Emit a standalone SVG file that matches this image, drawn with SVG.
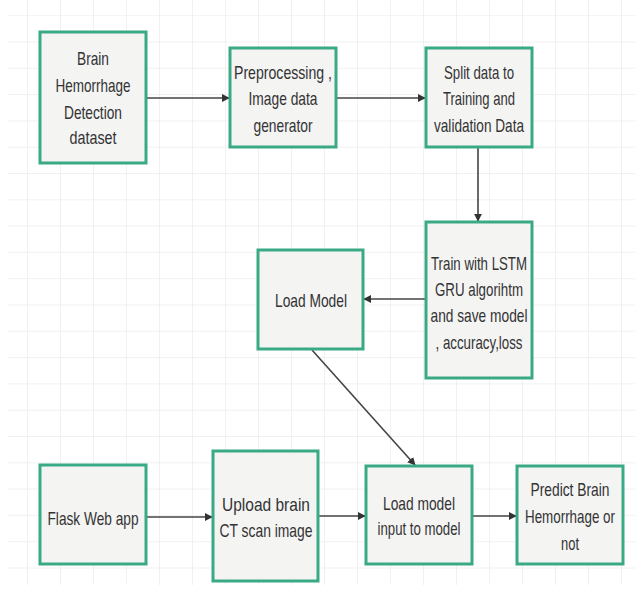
<svg xmlns="http://www.w3.org/2000/svg" width="635" height="594" viewBox="0 0 635 594">
<style>
.box{fill:#f4f4f3;stroke:#3aa985;stroke-width:3}
.lbl{font-family:"Liberation Sans",Arial,sans-serif;font-size:19px;fill:#333;text-anchor:middle}
.edge{stroke:#444;stroke-width:1.6;fill:none;marker-end:url(#ah)}
</style>
<defs>
<marker id="ah" viewBox="0 0 10 10" refX="9" refY="5" markerWidth="5" markerHeight="5" orient="auto" markerUnits="strokeWidth">
<path d="M0,0 L10,5 L0,10 z" fill="#333"/>
</marker>
<pattern id="grid" patternUnits="userSpaceOnUse" x="27" y="15.2" width="33" height="26.3">
<path d="M0,0 H33 M0,0 V26.3" stroke="#e3e3e3" stroke-width="1" fill="none"/>
</pattern>
</defs>
<rect width="635" height="594" fill="#fff"/>
<rect x="8" y="0" width="627" height="585" fill="url(#grid)"/>

<g id="connectors">
<line class="edge" x1="146" y1="98" x2="229" y2="98"/>
<line class="edge" x1="336" y1="98" x2="425" y2="98"/>
<line class="edge" x1="478" y1="147" x2="478" y2="221"/>
<line class="edge" x1="426" y1="299" x2="364" y2="299"/>
<line class="edge" x1="312" y1="350" x2="415" y2="465"/>
<line class="edge" x1="146" y1="517" x2="212" y2="517"/>
<line class="edge" x1="318" y1="516" x2="365" y2="516"/>
<line class="edge" x1="472" y1="516" x2="516" y2="516"/>
</g>

<g id="n1">
<rect class="box" x="40" y="32" width="106" height="131"/>
<text class="lbl" x="93" y="65" textLength="32" lengthAdjust="spacingAndGlyphs">Brain</text>
<text class="lbl" x="93" y="92" textLength="75" lengthAdjust="spacingAndGlyphs">Hemorrhage</text>
<text class="lbl" x="93" y="119" textLength="58" lengthAdjust="spacingAndGlyphs">Detection</text>
<text class="lbl" x="93" y="144" textLength="47" lengthAdjust="spacingAndGlyphs">dataset</text>
</g>

<g id="n2">
<rect class="box" x="230" y="48" width="106" height="99"/>
<text class="lbl" x="283" y="79" textLength="98" lengthAdjust="spacingAndGlyphs">Preprocessing ,</text>
<text class="lbl" x="283" y="105" textLength="69" lengthAdjust="spacingAndGlyphs">Image data</text>
<text class="lbl" x="283" y="132" textLength="59" lengthAdjust="spacingAndGlyphs">generator</text>
</g>

<g id="n3">
<rect class="box" x="426" y="48" width="106" height="99"/>
<text class="lbl" x="479" y="79" textLength="70" lengthAdjust="spacingAndGlyphs">Split data to</text>
<text class="lbl" x="479" y="105" textLength="72" lengthAdjust="spacingAndGlyphs">Training and</text>
<text class="lbl" x="479" y="132" textLength="90" lengthAdjust="spacingAndGlyphs">validation Data</text>
</g>

<g id="n4">
<rect class="box" x="426" y="222" width="106" height="156"/>
<text class="lbl" x="479" y="270" textLength="96" lengthAdjust="spacingAndGlyphs">Train with LSTM</text>
<text class="lbl" x="479" y="296" textLength="88" lengthAdjust="spacingAndGlyphs">GRU algorihtm</text>
<text class="lbl" x="479" y="322" textLength="97" lengthAdjust="spacingAndGlyphs">and save model</text>
<text class="lbl" x="479" y="349" textLength="87" lengthAdjust="spacingAndGlyphs">, accuracy,loss</text>
</g>

<g id="n5">
<rect class="box" x="258" y="250" width="105" height="99"/>
<text class="lbl" x="311" y="307" textLength="72" lengthAdjust="spacingAndGlyphs">Load Model</text>
</g>

<g id="n6">
<rect class="box" x="40" y="465" width="106" height="99"/>
<text class="lbl" x="93" y="525" textLength="91" lengthAdjust="spacingAndGlyphs">Flask Web app</text>
</g>

<g id="n7">
<rect class="box" x="213" y="451" width="105" height="130"/>
<text class="lbl" x="266" y="511" textLength="88" lengthAdjust="spacingAndGlyphs">Upload brain</text>
<text class="lbl" x="266" y="537" textLength="93" lengthAdjust="spacingAndGlyphs">CT scan image</text>
</g>

<g id="n8">
<rect class="box" x="366" y="466" width="106" height="98"/>
<text class="lbl" x="419" y="510" textLength="72" lengthAdjust="spacingAndGlyphs">Load model</text>
<text class="lbl" x="419" y="535" textLength="83" lengthAdjust="spacingAndGlyphs">input to model</text>
</g>

<g id="n9">
<rect class="box" x="517" y="466" width="106" height="98"/>
<text class="lbl" x="570" y="496" textLength="79" lengthAdjust="spacingAndGlyphs">Predict Brain</text>
<text class="lbl" x="570" y="523" textLength="90" lengthAdjust="spacingAndGlyphs">Hemorrhage or</text>
<text class="lbl" x="570" y="550" textLength="18" lengthAdjust="spacingAndGlyphs">not</text>
</g>
</svg>
